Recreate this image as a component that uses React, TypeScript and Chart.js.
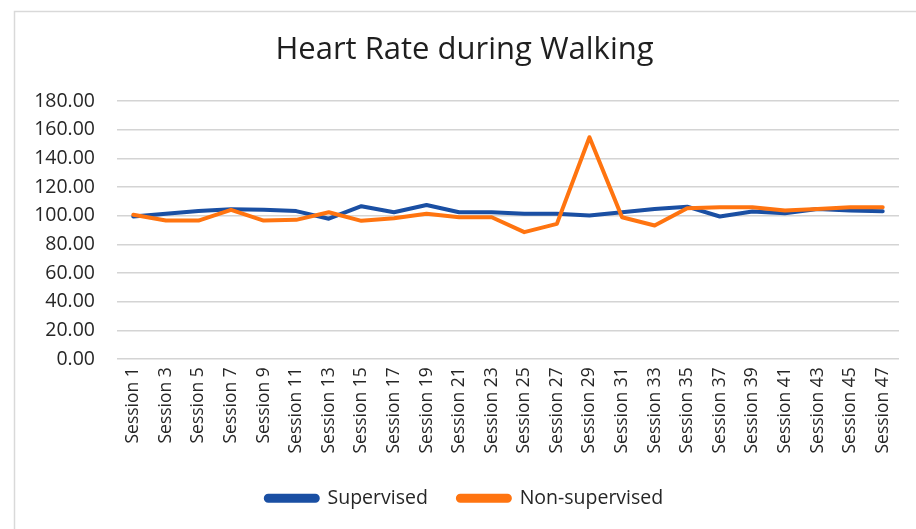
import React, { useEffect, useRef } from "react";
import { Chart, registerables } from "chart.js";

Chart.register(...registerables);

const sessions = [
  "Session 1", "Session 3", "Session 5", "Session 7", "Session 9", "Session 11",
  "Session 13", "Session 15", "Session 17", "Session 19", "Session 21", "Session 23",
  "Session 25", "Session 27", "Session 29", "Session 31", "Session 33", "Session 35",
  "Session 37", "Session 39", "Session 41", "Session 43", "Session 45", "Session 47",
];

const supervised = [
  99.5, 101.5, 103.3, 104.5, 104.2, 103.3, 98.0, 106.7, 102.5, 107.5, 102.5, 102.5,
  101.4, 101.4, 100.2, 102.5, 104.8, 106.4, 99.5, 103.0, 101.8, 104.8, 103.7, 103.2,
];

const nonSupervised = [
  100.7, 96.7, 96.7, 104.2, 96.7, 97.2, 102.5, 96.5, 98.3, 101.4, 99.0, 99.0,
  88.6, 94.4, 154.8, 99.0, 93.2, 105.3, 106.0, 106.0, 103.7, 104.8, 106.0, 106.0,
];

const yTicks = { min: 0, max: 180, step: 20 };

const FONT = "'Open Sans', 'Noto Sans', sans-serif";

const borderPlugin = {
  id: "outerBorder",
  beforeDraw(chart: any) {
    const ctx = chart.ctx;
    ctx.save();
    ctx.fillStyle = "#ffffff";
    ctx.fillRect(0, 0, chart.width, chart.height);
    ctx.strokeStyle = "#d9d9d9";
    ctx.lineWidth = 1.5;
    ctx.beginPath();
    ctx.moveTo(14.5, chart.height);
    ctx.lineTo(14.5, 11.5);
    ctx.lineTo(chart.width, 11.5);
    ctx.stroke();
    ctx.restore();
  },
};

export default function App() {
  const ref = useRef<HTMLCanvasElement | null>(null);

  useEffect(() => {
    document.body.style.margin = "0";
    if (!ref.current) return;
    const chart = new Chart(ref.current, {
      type: "line",
      data: {
        labels: sessions,
        datasets: [
          {
            label: "Supervised",
            data: supervised,
            borderColor: "#1a4fa3",
            backgroundColor: "#1a4fa3",
            borderWidth: 4,
            pointRadius: 0,
            tension: 0,
            borderCapStyle: "round",
            borderJoinStyle: "round",
            order: 1,
          },
          {
            label: "Non-supervised",
            data: nonSupervised,
            borderColor: "#ff7410",
            backgroundColor: "#ff7410",
            borderWidth: 4,
            pointRadius: 0,
            tension: 0,
            borderCapStyle: "round",
            borderJoinStyle: "round",
            order: 0,
          },
        ],
      },
      options: {
        responsive: false,
        animation: false,
        layout: { padding: { left: 30, right: 17, top: 0, bottom: 11 } },
        plugins: {
          title: {
            display: true,
            text: "Heart Rate during Walking",
            color: "#1f1f1f",
            font: { family: FONT, size: 31, weight: "normal" },
            padding: { top: 31.4, bottom: 32.5 },
          },
          legend: {
            position: "bottom",
            labels: {
              boxWidth: 52,
              boxHeight: 5,
              useBorderRadius: true,
              borderRadius: 2.5,
              color: "#262626",
              font: { family: FONT, size: 19.5 },
              padding: 30,
              sort: (a: any, b: any) => a.datasetIndex - b.datasetIndex,
            },
          },
          tooltip: { enabled: false },
        },
        scales: {
          x: {
            offset: true,
            grid: { display: false, drawTicks: false },
            border: { display: false },
            ticks: {
              autoSkip: false,
              maxRotation: 90,
              minRotation: 90,
              padding: 8,
              color: "#262626",
              font: { family: FONT, size: 17.5 },
            },
            afterFit(scale: any) {
              scale.height = 99.3;
            },
          },
          y: {
            min: yTicks.min,
            max: yTicks.max,
            grid: { color: "#d4d4d4", lineWidth: 1.5, drawTicks: false },
            border: { display: false },
            ticks: {
              stepSize: yTicks.step,
              padding: 22,
              color: "#262626",
              font: { family: FONT, size: 19.5 },
              callback: (v: any) => Number(v).toFixed(2),
            },
            afterFit(scale: any) {
              scale.width = 87;
            },
          },
        },
      },
      plugins: [borderPlugin],
    });
    return () => chart.destroy();
  }, []);

  return (
    <div style={{ width: 916, height: 529 }}>
      <canvas ref={ref} width={916} height={529} style={{ display: "block" }} />
    </div>
  );
}
